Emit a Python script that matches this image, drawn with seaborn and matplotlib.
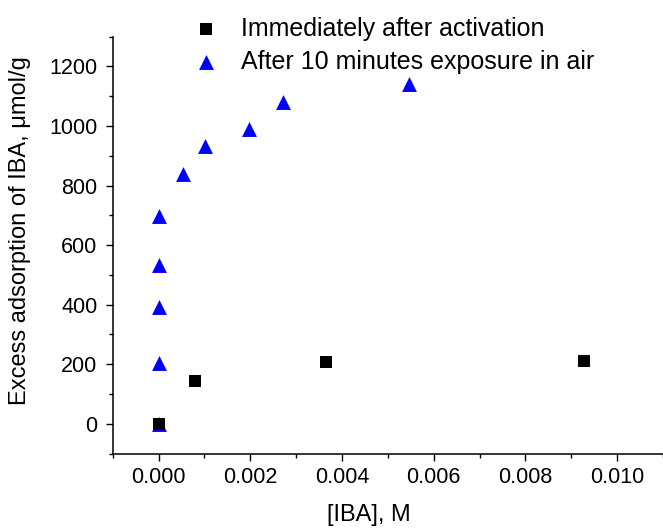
import pandas as pd
import seaborn as sns
import matplotlib.pyplot as plt
from matplotlib.ticker import MultipleLocator, FormatStrFormatter

# data
label_fresh = 'Immediately after activation'
label_air = 'After 10 minutes exposure in air'

fresh_conc = [0.0, 0.0008, 0.00366, 0.00928]
fresh_ads = [0, 145, 208, 210]

air_conc = [0.0, 0.0, 0.0, 0.0, 0.0, 0.00053, 0.00101, 0.00198, 0.00271, 0.00546]
air_ads = [0, 203, 393, 533, 698, 840, 932, 991, 1080, 1142]

fresh = pd.DataFrame({'conc': fresh_conc, 'ads': fresh_ads})
air = pd.DataFrame({'conc': air_conc, 'ads': air_ads})

sns.set_style('ticks')
plt.rcParams['font.family'] = ['Liberation Sans', 'DejaVu Sans']
plt.rcParams['text.color'] = 'black'
plt.rcParams['axes.labelcolor'] = 'black'

fig = plt.figure(figsize=(6.63, 5.29), dpi=100)
ax = fig.add_axes([0.170, 0.1427, 0.830, 0.788])

sns.scatterplot(x='conc', y='ads', data=air, marker='^', color='#0000ff',
                s=115, linewidth=0, label=label_air, ax=ax, zorder=3)
sns.scatterplot(x='conc', y='ads', data=fresh, marker='s', color='black',
                s=64, linewidth=0, label=label_fresh, ax=ax, zorder=4)

ax.set_xlim(-0.001, 0.011)
ax.set_ylim(-100, 1300)
ax.xaxis.set_major_locator(MultipleLocator(0.002))
ax.xaxis.set_minor_locator(MultipleLocator(0.001))
ax.xaxis.set_major_formatter(FormatStrFormatter('%.3f'))
ax.yaxis.set_major_locator(MultipleLocator(200))
ax.yaxis.set_minor_locator(MultipleLocator(100))

ax.tick_params(which='major', direction='out', length=5, width=1, labelsize=15.5,
               colors='black', labelcolor='black', pad=5)
ax.tick_params(axis='y', which='major', pad=6)
ax.tick_params(which='minor', direction='out', length=3, width=1, colors='black')
for side in ['left', 'bottom']:
    ax.spines[side].set_linewidth(1.1)
    ax.spines[side].set_color('black')
sns.despine(ax=ax)

ax.set_xlabel('[IBA], M', fontsize=17, color='black')
ax.set_ylabel('Excess adsorption of IBA, \u03bcmol/g', fontsize=17, color='black')
ax.xaxis.set_label_coords(0.466, -0.122)
ax.yaxis.set_label_coords(-0.148, 0.534)

handles, labels = ax.get_legend_handles_labels()
leg = ax.legend(handles[::-1], labels[::-1], loc='upper left', bbox_to_anchor=(193.5 / 663, 0.968),
                bbox_transform=fig.transFigure, frameon=False, fontsize=18, handlelength=1.0,
                handletextpad=0.9, labelspacing=0.36, borderpad=0, borderaxespad=0)
for t in leg.get_texts():
    t.set_color('black')

fig.savefig('out.png', dpi=100)
